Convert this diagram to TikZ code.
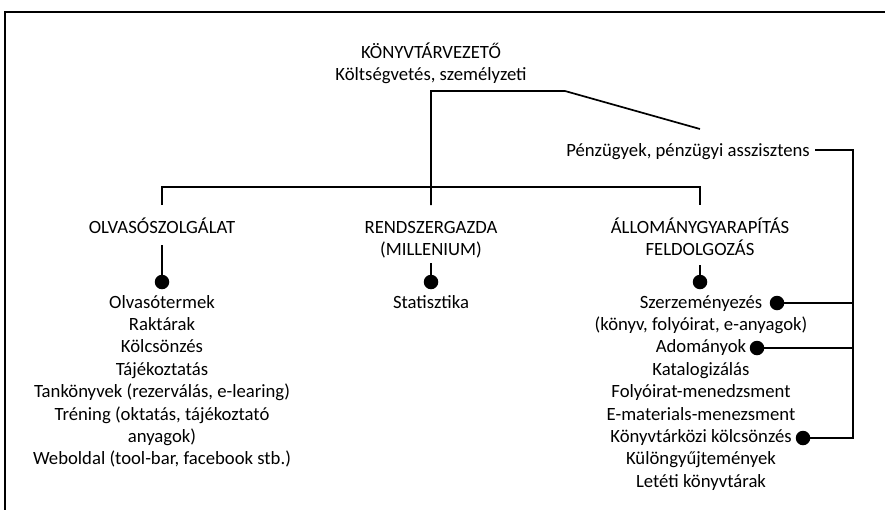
\documentclass[tikz,border=0pt]{standalone}
\usepackage{fontspec}
\setmainfont{Carlito}
\begin{document}
\begin{tikzpicture}[x=1pt,y=-1pt,
  txt/.style={inner sep=0pt,anchor=base,font=\fontsize{18.7}{22.4}\selectfont},
  conn/.style={line width=1.7pt},
  frameline/.style={line width=2pt},
  dot/.style={circle,fill=black,inner sep=0pt,minimum size=14.5pt}]
\useasboundingbox (0,0) rectangle (885,509);
% frame
\coordinate (fr1) at (886,12);
\coordinate (fr2) at (5,12);
\coordinate (fr3) at (5,510);
\draw[frameline] (fr1) -- (fr2) -- (fr3);

% head
\node[txt] (head1) at (431,58) {KÖNYVTÁRVEZETŐ};
\node[txt] (head2) at (431,80) {Költségvetés, személyzeti};
\node[txt] (fin) at (688,156) {Pénzügyek, pénzügyi asszisztens};

% branch labels
\node[txt] (olv) at (162,233) {OLVASÓSZOLGÁLAT};
\node[txt] (rg1) at (431,233) {RENDSZERGAZDA};
\node[txt] (rg2) at (431,255) {(MILLENIUM)};
\node[txt] (al1) at (700,233) {ÁLLOMÁNYGYARAPÍTÁS};
\node[txt] (al2) at (700,255) {FELDOLGOZÁS};

% left list
\node[txt] (l1) at (162,308) {Olvasótermek};
\node[txt] (l2) at (162,330.4) {Raktárak};
\node[txt] (l3) at (162,352.8) {Kölcsönzés};
\node[txt] (l4) at (162,375.2) {Tájékoztatás};
\node[txt] (l5) at (162,397.6) {Tankönyvek (rezerválás, e-learing)};
\node[txt] (l6) at (162,420) {Tréning (oktatás, tájékoztató};
\node[txt] (l7) at (162,442.4) {anyagok)};
\node[txt] (l8) at (162,464.8) {Weboldal (tool-bar, facebook stb.)};

% middle list
\node[txt] (m1) at (431,308) {Statisztika};

% right list
\node[txt] (r1) at (701,308) {Szerzeményezés};
\node[txt] (r2) at (701,330.4) {(könyv, folyóirat, e-anyagok)};
\node[txt] (r3) at (701,352.8) {Adományok};
\node[txt] (r4) at (701,375.2) {Katalogizálás};
\node[txt] (r5) at (701,397.6) {Folyóirat-menedzsment};
\node[txt] (r6) at (701,420) {E-materials-menezsment};
\node[txt] (r7) at (701,442.4) {Könyvtárközi kölcsönzés};
\node[txt] (r8) at (701,464.8) {Különgyűjtemények};
\node[txt] (r9) at (701,487.2) {Letéti könyvtárak};

% junction coordinates
\coordinate (jtop) at (431,91);
\coordinate (jbend) at (565,91);
\coordinate (jfin) at (700,129);
\coordinate (jl) at (162,187);
\coordinate (jr) at (700,187);
\coordinate (dl) at (162,205);
\coordinate (dm) at (431,205);
\coordinate (dr) at (700,205);
\coordinate (finend) at (815,150);
\coordinate (vtop) at (853,150);
\coordinate (v1) at (853,303);
\coordinate (v2) at (853,348);
\coordinate (v3) at (853,438);

% dots
\node[dot] (dotl) at (162,282) {};
\node[dot] (dotm) at (431,282) {};
\node[dot] (dotr) at (700,282) {};
\node[dot] (ds1) at (777,303) {};
\node[dot] (ds2) at (757,348) {};
\node[dot] (ds3) at (803,438) {};

% short stubs above dots
\coordinate (sl) at (162,245);
\coordinate (sm) at (431,263);
\coordinate (sr) at (700,265);

% connectors
\draw[conn] (dm) -- (jtop) -- (jbend) -- (jfin);
\draw[conn] (dl) -- (jl) -- (jr) -- (dr);
\draw[conn] (sl) -- (dotl.center);
\draw[conn] (sm) -- (dotm.center);
\draw[conn] (sr) -- (dotr.center);
\draw[conn] (finend) -- (vtop) -- (v3) -- (ds3.center);
\draw[conn] (v1) -- (ds1.center);
\draw[conn] (v2) -- (ds2.center);
\end{tikzpicture}
\end{document}
